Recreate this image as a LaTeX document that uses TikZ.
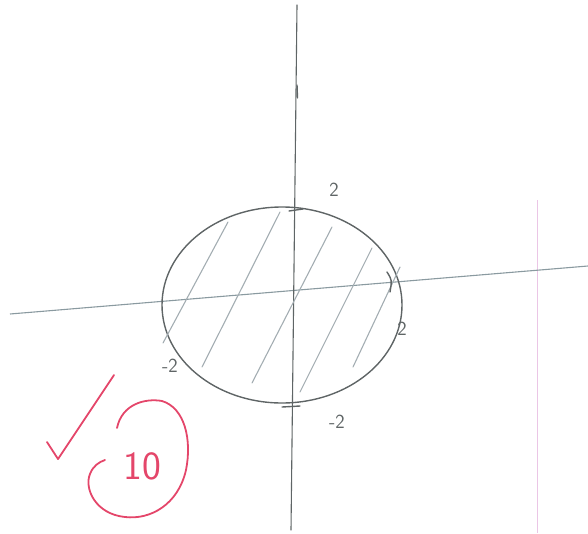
\documentclass[tikz,border=0pt]{standalone}
\usepackage{tikz}
\usetikzlibrary{positioning, calc}
\usepackage{xcolor}
\definecolor{pencilgray}{HTML}{5F6566}
\definecolor{axisgray}{HTML}{8A9AA0}
\definecolor{hatchgray}{HTML}{A3ADB2}
\definecolor{markred}{HTML}{E4466A}
\definecolor{marginpink}{HTML}{EBC6E6}

\begin{document}
\begin{tikzpicture}[
    x=1pt, y=-1pt,
    every node/.style={font=\fontsize{20}{20}\selectfont\sffamily, color=pencilgray, inner sep=0pt},
    pencil/.style={draw=pencilgray, line width=1.4pt, line cap=round, line join=round},
    hatch/.style={draw=hatchgray, line width=1.1pt, line cap=round},
    redpen/.style={draw=markred, line width=1.8pt, line cap=round, line join=round}
]
    \useasboundingbox (0,0) rectangle (588,533);

    % Margin line
    \coordinate (mtop) at (537,200);
    \coordinate (mbot) at (537,533);
    \draw[marginpink, line width=0.8pt] (mtop) -- (mbot);

    % Axes
    \coordinate (xleft) at (10,314);
    \coordinate (xright) at (588,266);
    \coordinate (ytop) at (297,5);
    \coordinate (ybot) at (291,530);
    \draw[draw=axisgray, line width=1.1pt] (xleft) -- (xright);
    \draw[pencil, line width=1.1pt] (ytop) -- (ybot);
    \draw[pencil] (297,85) -- (297.5,98);

    % Disk of radius 2
    \draw[pencil] (282,305) ellipse [x radius=120, y radius=98];

    % Hatching
    \foreach \a/\b/\c/\d in {163/343/228/222, 202/367/280/212, 252/383/332/227, 300/392/372/248, 353/367/400/267}
        \draw[hatch] (\a,\b) -- (\c,\d);

    % Ticks
    \draw[pencil] (289,211) -- (303,209);
    \draw[pencil] (387,272) .. controls (392,280) .. (390,292);
    \draw[pencil] (282,407) -- (300,406);

    % Tick labels
    \node (ltop) at (334,190) {2};
    \node (lright) at (402,329) {2};
    \node (lleft) at (170,366) {-2};
    \node (lbot) at (337,422) {-2};

    % Mark
    \coordinate (chka) at (47,442);
    \coordinate (chkb) at (58,459);
    \coordinate (chkc) at (114,375);
    \draw[redpen] (chka) -- (chkb) -- (chkc);
    \draw[redpen] (117,428) .. controls (122,404) and (145,398) .. (162,401)
        .. controls (185,408) and (192,440) .. (186,470)
        .. controls (178,505) and (150,520) .. (125,517)
        .. controls (95,514) and (84,488) .. (90,474)
        .. controls (93,466) and (99,462) .. (105,460);
    \node[color=markred, font=\fontsize{40}{40}\selectfont\sffamily] (grade) at (142,466) {10};
\end{tikzpicture}
\end{document}
